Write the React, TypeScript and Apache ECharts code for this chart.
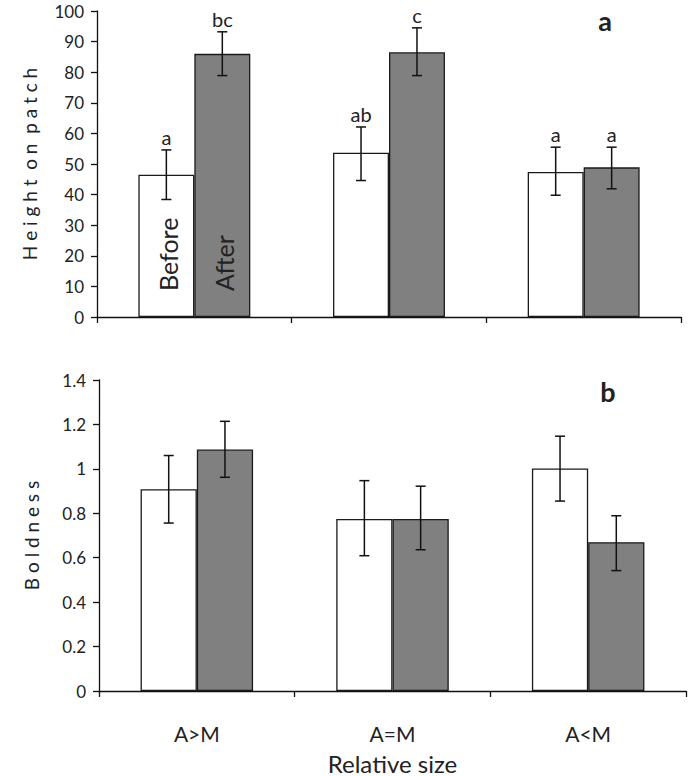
import React, { useEffect, useRef } from "react";
import * as echarts from "echarts";

const categories = ["A>M", "A=M", "A<M"];

const heightBefore = [46.5, 53.7, 47.4];
const heightBeforeLow = [38.4, 44.6, 39.8];
const heightBeforeHigh = [54.6, 62.1, 55.5];
const heightBeforeLetters = ["a", "ab", "a"];

const heightAfter = [86.0, 86.5, 48.9];
const heightAfterLow = [78.9, 78.9, 41.9];
const heightAfterHigh = [93.2, 94.5, 55.5];
const heightAfterLetters = ["bc", "c", "a"];

const boldBefore = [0.908, 0.774, 1.002];
const boldBeforeLow = [0.756, 0.609, 0.855];
const boldBeforeHigh = [1.06, 0.947, 1.147];

const boldAfter = [1.087, 0.774, 0.67];
const boldAfterLow = [0.962, 0.636, 0.542];
const boldAfterHigh = [1.214, 0.922, 0.789];

const FONT = "Lato";
const GAP = 0.425;

function errSeries(
  axisIdx: number,
  sign: number,
  low: number[],
  high: number[],
  letters: string[] | null
) {
  return {
    type: "custom",
    xAxisIndex: axisIdx,
    yAxisIndex: axisIdx,
    z: 10,
    data: low.map((l, i) => [i, l, high[i], letters ? letters[i] : ""]),
    renderItem: (params: any, api: any) => {
      const cx = api.coord([api.value(0), 0])[0];
      const band = api.size([1, 0])[0];
      const x = cx + (sign * band * (1 - GAP)) / 4;
      const yl = api.coord([api.value(0), api.value(1)])[1];
      const yh = api.coord([api.value(0), api.value(2)])[1];
      const cap = 5;
      const st = { stroke: "#111", lineWidth: 1.5 };
      const children: any[] = [
        { type: "line", shape: { x1: x, y1: yl, x2: x, y2: yh }, style: st },
        { type: "line", shape: { x1: x - cap, y1: yl, x2: x + cap, y2: yl }, style: st },
        { type: "line", shape: { x1: x - cap, y1: yh, x2: x + cap, y2: yh }, style: st },
      ];
      const letter = letters ? letters[params.dataIndex] : "";
      if (letter) {
        children.push({
          type: "text",
          x: x,
          y: yh - 3,
          style: {
            text: letter,
            fill: "#222",
            font: `20px ${FONT}`,
            textAlign: "center",
            textVerticalAlign: "bottom",
          },
        });
      }
      return { type: "group", children };
    },
  };
}

export default function App() {
  const ref = useRef<HTMLDivElement>(null);
  useEffect(() => {
    const chart = echarts.init(ref.current!, null, { renderer: "svg" });
    const axisLine = { show: true, lineStyle: { color: "#111", width: 1.3 } };
    const axisTick = { show: true, length: 6, lineStyle: { color: "#111", width: 1.3 } };
    const yLabel = { color: "#222", fontSize: 17, fontFamily: FONT, margin: 13 };
    const barStyleWhite = { color: "#ffffff", borderColor: "#1a1a1a", borderWidth: 1.3 };
    const barStyleGrey = { color: "#808080", borderColor: "#1a1a1a", borderWidth: 1.3 };
    const txt = (text: string, x: number, y: number, font: string, rot = 0, align = "center") => ({
      type: "text",
      x,
      y,
      z: 100,
      rotation: rot,
      style: {
        text,
        font,
        fill: "#222",
        textAlign: align,
        textVerticalAlign: "middle",
      },
    });
    chart.setOption({
      animation: false,
      backgroundColor: "#ffffff",
      grid: [
        { left: 97, top: 11, right: 7, height: 306 },
        { left: 99, top: 380, right: 2, height: 313 },
      ],
      xAxis: [
        {
          type: "category",
          gridIndex: 0,
          data: categories,
          axisLine,
          axisTick,
          axisLabel: { show: false },
        },
        {
          type: "category",
          gridIndex: 1,
          data: categories,
          axisLine,
          axisTick,
          axisLabel: { color: "#222", fontSize: 21, fontFamily: FONT, margin: 32 },
          name: "Relative size",
          nameLocation: "middle",
          nameGap: 60,
          nameTextStyle: { color: "#222", fontSize: 24, fontFamily: FONT },
        },
      ],
      yAxis: [
        {
          type: "value",
          gridIndex: 0,
          min: 0,
          max: 100,
          interval: 10,
          axisLine,
          axisTick,
          splitLine: { show: false },
          axisLabel: yLabel,
          name: "H e i g h t  o n  p a t c h",
          nameLocation: "middle",
          nameGap: 58,
          nameTextStyle: { color: "#222", fontSize: 19, fontFamily: FONT },
        },
        {
          type: "value",
          gridIndex: 1,
          min: 0,
          max: 1.4,
          interval: 0.2,
          axisLine,
          axisTick,
          splitLine: { show: false },
          axisLabel: yLabel,
          name: "B o l d n e s s",
          nameLocation: "middle",
          nameGap: 58,
          nameTextStyle: { color: "#222", fontSize: 19, fontFamily: FONT },
        },
      ],
      series: [
        {
          type: "bar",
          xAxisIndex: 0,
          yAxisIndex: 0,
          data: heightBefore,
          itemStyle: barStyleWhite,
          barGap: "0%",
          barCategoryGap: `${GAP * 100}%`,
        },
        {
          type: "bar",
          xAxisIndex: 0,
          yAxisIndex: 0,
          data: heightAfter,
          itemStyle: barStyleGrey,
          barGap: "0%",
          barCategoryGap: `${GAP * 100}%`,
        },
        {
          type: "bar",
          xAxisIndex: 1,
          yAxisIndex: 1,
          data: boldBefore,
          itemStyle: barStyleWhite,
          barGap: "0%",
          barCategoryGap: `${GAP * 100}%`,
        },
        {
          type: "bar",
          xAxisIndex: 1,
          yAxisIndex: 1,
          data: boldAfter,
          itemStyle: barStyleGrey,
          barGap: "0%",
          barCategoryGap: `${GAP * 100}%`,
        },
        errSeries(0, -1, heightBeforeLow, heightBeforeHigh, heightBeforeLetters),
        errSeries(0, 1, heightAfterLow, heightAfterHigh, heightAfterLetters),
        errSeries(1, -1, boldBeforeLow, boldBeforeHigh, null),
        errSeries(1, 1, boldAfterLow, boldAfterHigh, null),
      ],
      graphic: [
        txt("a", 605, 20, `bold 27px ${FONT}`),
        txt("b", 608, 391, `bold 27px ${FONT}`),
        txt("Before", 168, 291, `25px ${FONT}`, Math.PI / 2, "left"),
        txt("After", 224, 291, `25px ${FONT}`, Math.PI / 2, "left"),
      ],
    });
    return () => chart.dispose();
  }, []);
  return (
    <div
      ref={ref}
      style={{ position: "fixed", left: 0, top: 0, width: 688, height: 776 }}
    />
  );
}
